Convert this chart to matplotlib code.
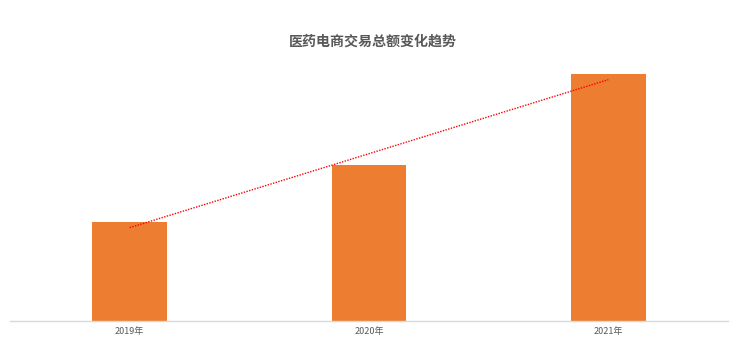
import matplotlib
matplotlib.use("Agg")
import matplotlib.pyplot as plt
import numpy as np

plt.rcParams['font.family'] = ['Noto Sans CJK SC', 'DejaVu Sans']

categories = ["2019年", "2020年", "2021年"]
values = [99, 156, 247]

fig = plt.figure(figsize=(7.39, 3.45), dpi=100)
ax = fig.add_axes([10/739, 24/345, 718/739, 267/345])

x = np.arange(len(categories))
ax.bar(x, values, width=0.313, color="#ED7D31", zorder=2)

coef = np.polyfit(x, values, 1)
ax.plot(x, np.polyval(coef, x), linestyle=(0, (1, 1)), color="#FF0000", linewidth=1.0, zorder=3)

ax.set_xlim(-0.5, 2.5)
ax.set_ylim(0, 267)
ax.set_xticks(x)
ax.set_xticklabels(categories, fontsize=6.5, color="#595959")
ax.tick_params(axis='x', length=0, pad=4)
ax.set_yticks([])
for s in ["top", "right", "left"]:
    ax.spines[s].set_visible(False)
ax.spines["bottom"].set_color("#D9D9D9")
ax.spines["bottom"].set_linewidth(1.0)

fig.text(373/739, 1 - 42/345, "医药电商交易总额变化趋势", ha="center", va="center",
         fontsize=10.1, fontweight="bold", color="#595959")

fig.savefig("out.png", dpi=100)
